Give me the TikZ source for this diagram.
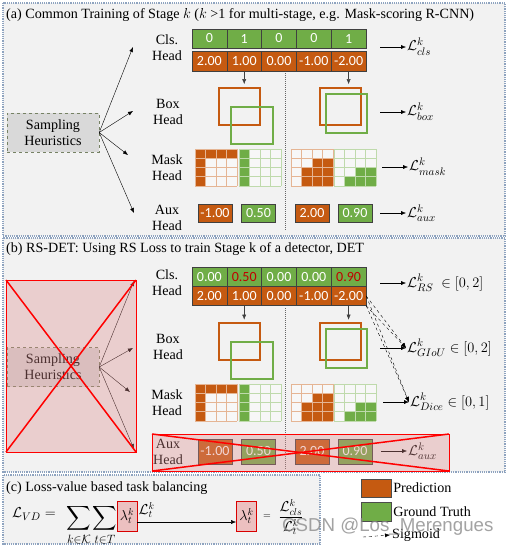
\documentclass[tikz,border=0pt]{standalone}
\usepackage{amsmath, amssymb}
\usepackage{fontspec}
\setmainfont{Liberation Serif}
\newfontfamily\cellfont{Carlito}
\newfontfamily\wmfont{Liberation Sans}
\usetikzlibrary{arrows.meta}
\definecolor{predorange}{HTML}{C55A11}
\definecolor{gtgreen}{HTML}{70AD47}
\definecolor{panelgray}{HTML}{F2F2F2}
\definecolor{panelline}{HTML}{8EA3BF}
\definecolor{heurgray}{HTML}{D9D9D9}
\definecolor{heurline}{HTML}{768264}
\definecolor{valred}{HTML}{C00000}
\definecolor{crossred}{HTML}{FF0000}
\definecolor{pinkfill}{RGB}{220,140,140}

\tikzset{
  panel/.style={draw=panelline, densely dotted, line width=1.2pt, fill=panelgray},
  heur/.style={draw=heurline, dashed, fill=heurgray, minimum width=92pt,
    minimum height=39pt, align=center, inner sep=0pt},
  headlbl/.style={align=center, inner sep=0pt},
  cell/.style={draw=black!75, text=white, minimum width=34.8pt, minimum height=19pt,
    inner sep=0pt, font=\cellfont\fontsize{14}{14}\selectfont},
  gtcell/.style={cell, fill=gtgreen},
  predcell/.style={cell, fill=predorange},
  auxcell/.style={cell, minimum width=34pt, line width=0.8pt},
  loss/.style={anchor=west, inner sep=1pt, font=\fontsize{15.5}{16}\selectfont},
  predbox/.style={draw=predorange, line width=1.8pt},
  gtbox/.style={draw=gtgreen, line width=1.8pt},
  crossbox/.style={draw=crossred, fill=pinkfill, fill opacity=0.35},
  cross/.style={crossred, line width=1.5pt},
  lambox/.style={draw=crossred!85!black, fill=pinkfill!55, line width=0.8pt,
    minimum width=20pt, minimum height=30pt, inner sep=0pt},
  sep/.style={black!60, densely dotted, line width=1pt}
}

\begin{document}
\begin{tikzpicture}[x=1pt,y=-1pt,>={Latex[length=5pt,width=4pt]},
    font=\fontsize{14.1}{15.8}\selectfont]
  \useasboundingbox (0,0) rectangle (509,547);
  \fill[white] (0,0) rectangle (509,547);

  % Panels
  \draw[panel] (3,3) rectangle (505,236);
  \draw[panel] (3,238) rectangle (505,472);
  \draw[panel] (3,475) rectangle (320,544);

  \node[anchor=west, inner sep=0pt] (titlea) at (6,15)
    {(a) Common Training of Stage $k$ ($k$ >1 for multi-stage, e.g. Mask-scoring R-CNN)};
  \node[anchor=west, inner sep=0pt] (titleb) at (6,249)
    {(b) RS-DET: Using RS Loss to train Stage k of a detector, DET};
  \node[anchor=west, inner sep=0pt] (titlec) at (6,488)
    {(c) Loss-value based task balancing};

  % Head labels
  \foreach \dy/\p in {0/a,235/b} {
    \node[headlbl] (cls\p) at (167,{48+\dy}) {Cls.\\Head};
    \node[headlbl] (box\p) at (168,{112+\dy}) {Box\\Head};
    \node[headlbl] (mask\p) at (167,{168+\dy}) {Mask\\Head};
  }
  \node[headlbl] (auxa) at (167,218) {Aux\\Head};
  \node[headlbl] (auxb) at (168,452) {Aux\\Head};

  % Sampling heuristics
  \node[heur] (heura) at (53,132.5) {Sampling\\Heuristics};
  \node[heur] (heurb) at (53,367) {Sampling\\Heuristics};
  \coordinate (ha1) at (133,47);
  \coordinate (ha2) at (133,111);
  \coordinate (ha3) at (128,155);
  \coordinate (ha4) at (134,213);
  \coordinate (hb1) at (134,281);
  \coordinate (hb2) at (133,348);
  \coordinate (hb3) at (130,392);
  \coordinate (hb4) at (134,449);
  \foreach \i in {1,...,4} {
    \draw[->] (heura.east) -- (ha\i);
    \draw[->] (heurb.east) -- (hb\i);
  }

  % Cls. head rows
  \foreach \v [count=\i] in {0,1,0,0,1}
    \node[gtcell] (ga\i) at ({192+34.8*(\i-0.5)},38.5) {\v};
  \foreach \v [count=\i] in {2.00,1.00,0.00,-1.00,-2.00}
    \node[predcell, minimum height=20pt] (pa\i) at ({192+34.8*(\i-0.5)},61) {\v};
  \foreach \v [count=\i] in {0.00,\textcolor{valred}{0.50},0.00,0.00,\textcolor{valred}{0.90}}
    \node[gtcell] (gb\i) at ({192+34.8*(\i-0.5)},277) {\v};
  \foreach \v [count=\i] in {2.00,1.00,0.00,-1.00,-2.00}
    \node[predcell] (pb\i) at ({192+34.8*(\i-0.5)},296) {\v};
  \draw[->, black!75] (pa2.south) -- ++(0,13);
  \draw[->, black!75] (pa5.south) -- ++(0,13);
  \draw[->, black!75] (pb2.south) -- ++(0,14);
  \draw[->, black!75] (pb5.south) -- ++(0,14);

  % Separators
  \draw[sep] (285,73) -- (285,231);
  \draw[sep] (285,308) -- (285,469);

  % Box and mask heads
  \foreach \dy in {0,235} {
    \begin{scope}[shift={(0,\dy)}]
      \draw[predbox] (219,88) rectangle (260,125);
      \draw[gtbox] (231,107) rectangle (273,144);
      \draw[predbox] (320,88) rectangle (361,125);
      \draw[gtbox] (326,94) rectangle (367,133);
      \foreach \gx/\gc/\cells in {195/predorange/{1/1,2/1,3/1,4/1,1/2,1/3,1/4},
          239/gtgreen/{1/1,1/2,1/3,1/4},
          291/predorange/{3/2,4/2,2/3,3/3,4/3,2/4,3/4,4/4},
          334/gtgreen/{3/3,4/3,2/4,3/4,4/4}} {
        \fill[white!97!black] (\gx,149) rectangle ++(42,37);
        \foreach \c/\r in \cells
          \fill[\gc] ({\gx+10.5*(\c-1)},{149+9.25*(\r-1)}) rectangle ++(10.5,9.25);
        \foreach \k in {0,...,4} {
          \draw[\gc!45, line width=0.9pt] ({\gx+10.5*\k},149) -- ++(0,37);
          \draw[\gc!45, line width=0.9pt] (\gx,{149+9.25*\k}) -- ++(42,0);
        }
      }
    \end{scope}
  }

  % Aux heads
  \node[auxcell, fill=predorange, minimum height=18pt] (xa1) at (215,213) {-1.00};
  \node[auxcell, fill=gtgreen, minimum height=18pt] (xa2) at (258.5,213) {0.50};
  \node[auxcell, fill=predorange, minimum height=18pt] (xa3) at (312,213) {2.00};
  \node[auxcell, fill=gtgreen, minimum height=18pt] (xa4) at (355,213) {0.90};
  \node[auxcell, fill=predorange, minimum height=25pt] (xb1) at (215,451.5) {-1.00};
  \node[auxcell, fill=gtgreen, minimum height=25pt] (xb2) at (258.5,451.5) {0.50};
  \node[auxcell, fill=predorange, minimum height=25pt] (xb3) at (312,451.5) {2.00};
  \node[auxcell, fill=gtgreen, minimum height=25pt] (xb4) at (355,451.5) {0.90};

  % Losses
  \node[loss] (lcls) at (406,47) {$\mathcal{L}^k_{cls}$};
  \node[loss] (lbox) at (406,112) {$\mathcal{L}^k_{box}$};
  \node[loss] (lmask) at (408,167) {$\mathcal{L}^k_{mask}$};
  \node[loss] (laux) at (406,213) {$\mathcal{L}^k_{aux}$};
  \node[loss] (lrs) at (406,283) {$\mathcal{L}^k_{RS}\;\in[0,2]$};
  \node[loss] (lgiou) at (406,348) {$\mathcal{L}^k_{GIoU}\in[0,2]$};
  \node[loss] (ldice) at (409,402) {$\mathcal{L}^k_{Dice}\in[0,1]$};
  \node[loss] (lauxb) at (407,451) {$\mathcal{L}^k_{aux}$};
  \foreach \l in {lcls,lbox,lmask,laux,lrs,lgiou,ldice,lauxb}
    \draw[->] ([xshift=-26pt]\l.west) -- (\l.west);
  \draw[->, dashed] (pb5.east) -- (lgiou.west);
  \draw[->, dashed] (pb5.south east) -- (lgiou.west);
  \draw[->, dashed] (pb5.east) -- (ldice.west);
  \draw[->, dashed] (pb5.south east) -- (ldice.west);

  % Crossed out parts of RS-DET
  \draw[crossbox] (6,280) rectangle (136,452);
  \draw[cross] (6,280) -- (136,452);
  \draw[cross] (6,452) -- (136,280);
  \draw[crossbox] (152,434) rectangle (449,471);
  \draw[cross] (152,434) -- (449,471);
  \draw[cross] (152,471) -- (449,434);

  % Task balancing
  \node[anchor=west, inner sep=0pt, font=\fontsize{15}{16}\selectfont] (lvd) at (12,514)
    {$\mathcal{L}_{VD} =$};
  \node[anchor=north, inner sep=0pt, font=\fontsize{17}{17}\selectfont] (sumk) at (79,505)
    {$\displaystyle\sum_{k\in\mathcal{K}}$};
  \node[anchor=north, inner sep=0pt, font=\fontsize{17}{17}\selectfont] (sumt) at (105,505)
    {$\displaystyle\sum_{t\in T}$};
  \node[lambox] (lam1) at (127,516) {$\lambda^k_t$};
  \node[anchor=west, inner sep=1pt] (lt) at (lam1.east|-0,510) {$\mathcal{L}^k_t$};
  \node[lambox] (lam2) at (246.5,516) {$\lambda^k_t$};
  \draw[->] ([yshift=-6pt]lam1.east) -- ([yshift=-6pt]lam2.west);
  \node[inner sep=0pt, font=\fontsize{10}{10}\selectfont] (eq) at (267,517) {$=$};
  \node[inner sep=0pt] (frac) at (291,517) {$\dfrac{\mathcal{L}^k_{cls}}{\mathcal{L}^k_t}$};

  % Legend
  \node[draw=black!70, fill=predorange, minimum width=30pt, minimum height=18pt,
    inner sep=0pt] (legpred) at (376,488) {};
  \node[anchor=west, inner sep=2pt] at (legpred.east) {Prediction};
  \node[draw=black!70, fill=gtgreen, minimum width=30pt, minimum height=19pt,
    inner sep=0pt] (leggt) at (376,511.5) {};
  \node[anchor=west, inner sep=2pt] at (leggt.east) {Ground Truth};
  \coordinate (legsig) at (363,537);
  \node[anchor=west, inner sep=2pt] (legsigtxt) at (390,535) {Sigmoid};
  \draw[->, dashed] (legsig) -- (legsigtxt.west);

  % Watermark
  \node[anchor=west, inner sep=0pt, text=black!45, opacity=0.8,
    font=\wmfont\fontsize{18.7}{19}\selectfont] (wm) at (282,527) {CSDN @Los\_Merengues};
\end{tikzpicture}
\end{document}
